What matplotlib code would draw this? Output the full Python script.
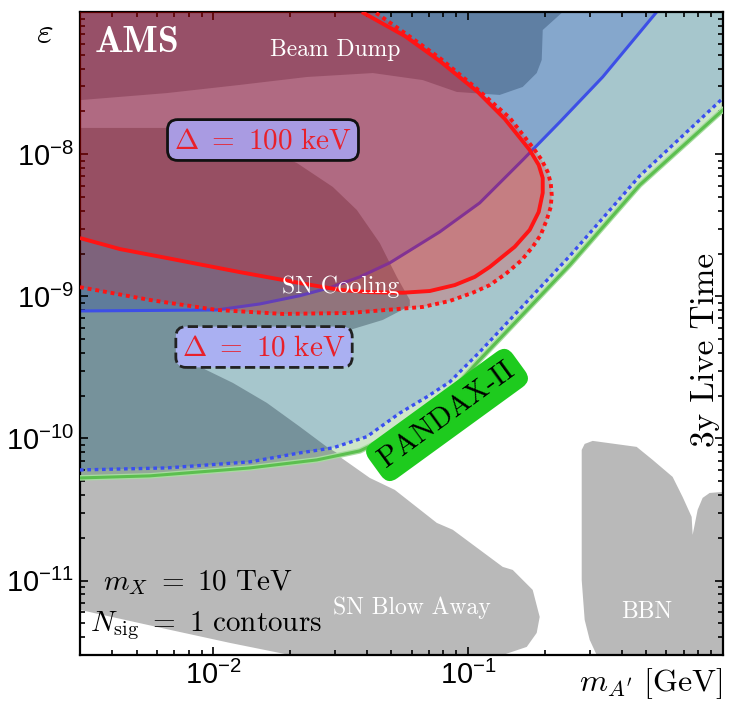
import numpy as np
import matplotlib.pyplot as plt
from matplotlib.ticker import LogLocator, NullFormatter

plt.rcParams['font.family'] = ['Liberation Sans', 'DejaVu Sans']
plt.rcParams['mathtext.fontset'] = 'custom'
plt.rcParams['mathtext.rm'] = 'Liberation Sans'
plt.rcParams['mathtext.it'] = 'Liberation Sans:italic'
plt.rcParams['mathtext.bf'] = 'Liberation Sans:bold'

# limites dos eixos
x_min, x_max = 3e-3, 1.0
y_min, y_max = 3e-12, 1e-7

# PANDAX-II (linha verde)
pandax_m = [0.0030, 0.00564, 0.01392, 0.02549, 0.03758, 0.04625, 0.06288, 0.0847, 0.1091, 0.2503, 0.4711, 1.0]
pandax_eps = [5.28e-11, 5.46e-11, 6.21e-11, 7.07e-11, 8.18e-11, 9.78e-11, 1.42e-10, 2.09e-10, 3.46e-10, 1.66e-9, 6.07e-9, 2.05e-8]

# 3y live time, Delta = 10 keV (azul pontilhado)
live10_m = [0.0030, 0.006579, 0.01392, 0.02186, 0.02945, 0.04005, 0.05394, 0.06881, 0.0847, 0.111, 0.2503, 0.4711, 1.0]
live10_eps = [6.01e-11, 6.21e-11, 6.85e-11, 7.92e-11, 8.59e-11, 1.03e-10, 1.51e-10, 1.96e-10, 2.50e-10, 4.06e-10, 1.92e-9, 7.03e-9, 2.48e-8]

# 3y live time, Delta = 100 keV (azul continuo)
live100_m = [0.0030, 0.01033, 0.01524, 0.02186, 0.02867, 0.03758, 0.04928, 0.07738, 0.111, 0.1637, 0.2287, 0.3372, 0.5491]
live100_eps = [7.89e-10, 8.02e-10, 8.84e-10, 1.01e-9, 1.15e-9, 1.37e-9, 1.72e-9, 2.84e-9, 4.54e-9, 9.10e-9, 1.68e-8, 3.49e-8, 1.0e-7]

# AMS, Delta = 100 keV (vermelho continuo)
ams100_m = [0.0030, 0.004303, 0.006579, 0.01272, 0.02186, 0.03137, 0.04113, 0.05542, 0.07071, 0.08863, 0.1062, 0.1216,
            0.1523, 0.1744, 0.1892, 0.1962, 0.1962, 0.1892, 0.1744, 0.1392, 0.1091, 0.07738, 0.05643, 0.03827]
ams100_eps = [2.57e-9, 2.15e-9, 1.86e-9, 1.48e-9, 1.24e-9, 1.11e-9, 1.07e-9, 1.06e-9, 1.09e-9, 1.20e-9, 1.37e-9, 1.61e-9,
              2.23e-9, 2.93e-9, 3.92e-9, 5.34e-9, 6.80e-9, 8.40e-9, 1.07e-8, 1.77e-8, 2.74e-8, 4.52e-8, 6.78e-8, 1.0e-7]

# AMS, Delta = 10 keV (vermelho pontilhado)
ams10_m = [0.0030, 0.005642, 0.01033, 0.01875, 0.03434, 0.06637, 0.0847, 0.1042, 0.1216, 0.1418, 0.1623, 0.1792, 0.1926,
           0.2034, 0.2109, 0.2128, 0.2109, 0.2052, 0.1944, 0.1825, 0.1457, 0.1062, 0.07738, 0.05643, 0.04303]
ams10_eps = [1.16e-9, 9.43e-10, 8.02e-10, 7.52e-10, 7.64e-10, 8.42e-10, 9.28e-10, 1.06e-9, 1.20e-9, 1.46e-9, 1.80e-9,
             2.23e-9, 2.70e-9, 3.45e-9, 4.25e-9, 5.16e-9, 6.27e-9, 7.50e-9, 9.10e-9, 1.07e-8, 1.80e-8, 2.97e-8, 4.75e-8,
             7.12e-8, 1.0e-7]

# Beam dump
bd_m = [0.003, 0.235, 0.1962, 0.1944, 0.1858, 0.1637, 0.133, 0.1042, 0.09024, 0.06637, 0.04226, 0.02329, 0.01272, 0.006579, 0.003]
bd_eps = [1e-7, 1e-7, 7.47e-8, 4.60e-8, 3.72e-8, 2.97e-8, 2.61e-8, 2.69e-8, 2.74e-8, 3.32e-8, 3.72e-8, 3.49e-8, 3.07e-8, 2.69e-8, 2.40e-8]

# SN cooling (a borda inferior segue a linha do PANDAX-II)
snc_m = [0.003, 0.00676, 0.01272, 0.02128, 0.02945, 0.03658, 0.04501, 0.0525, 0.05904, 0.05904, 0.04625, 0.03434,
         0.008863, 0.01194, 0.01623, 0.02186, 0.0279, 0.03054]
snc_eps = [1.53e-8, 1.53e-8, 1.26e-8, 8.67e-9, 5.88e-9, 4.05e-9, 2.37e-9, 1.37e-9, 9.43e-10, 8.56e-10, 6.82e-10, 5.80e-10,
           3.19e-10, 2.46e-10, 1.78e-10, 1.21e-10, 8.73e-11, 7.92e-11]

# SN blow away
snb_m = [0.003, 0.02945, 0.04113, 0.05156, 0.07532, 0.08704, 0.1367, 0.1496, 0.1792, 0.1909, 0.1858, 0.1698, 0.1367,
         0.01998, 0.01162, 0.00676, 0.003]
snb_eps = [6.01e-11, 8.05e-11, 5.28e-11, 4.35e-11, 2.55e-11, 2.28e-11, 1.25e-11, 1.19e-11, 8.61e-12, 5.56e-12, 4.29e-12,
           3.42e-12, 3.0e-12, 3.0e-12, 3.65e-12, 4.51e-12, 6.23e-12]

# BBN
bbn_m = [0.279, 0.2866, 0.3081, 0.4584, 0.5297, 0.6344, 0.6944, 0.7534, 0.7602, 0.7953, 0.8319, 0.8863, 1.0, 1.0,
         0.3194, 0.2998, 0.2866, 0.279]
bbn_eps = [8.31e-11, 9.16e-11, 9.62e-11, 8.73e-11, 7.07e-11, 5.37e-11, 3.88e-11, 2.81e-11, 2.10e-11, 3.15e-11, 3.82e-11,
           4.14e-11, 4.21e-11, 3.0e-12, 3.0e-12, 3.84e-12, 5.30e-12, 1.01e-11]

fig = plt.figure(figsize=(7.38, 7.10), dpi=100)
ax = fig.add_axes([80/738, 55/710, 643/738, 643/710])
ax.set_xscale('log')
ax.set_yscale('log')

# regioes cinzas
ax.fill(snb_m, snb_eps, color='#b9b9b9', lw=0)
ax.fill(bbn_m, bbn_eps, color='#b9b9b9', lw=0)

# regiao teal acima do PANDAX-II
ax.fill(pandax_m + [x_max, x_min], pandax_eps + [y_max, y_max], color='#a6c6cc', lw=0)
# faixa clara entre as duas curvas de baixo
ax.fill(live10_m + pandax_m[::-1], live10_eps + pandax_eps[::-1], color='#cfe6c9', lw=0)
# regiao azul clara acima da curva de 100 keV
ax.fill(live100_m + [x_min], live100_eps + [y_max], color='#85a7cc', lw=0)

# beam dump e SN cooling
ax.fill(bd_m, bd_eps, color='#5f7fa3', lw=0)
low_m = [m for m in pandax_m if m < 0.0305][::-1]
low_eps = [e for m, e in zip(pandax_m, pandax_eps) if m < 0.0305][::-1]
ax.fill(snc_m + low_m, snc_eps + low_eps, color='#0a1a2a', alpha=0.3, lw=0)

ax.plot(live100_m, live100_eps, color='#3d4fe6', lw=2.2, zorder=2)

# regioes do AMS (vermelho transparente)
ax.fill(ams10_m + [x_min], ams10_eps + [y_max], color='red', alpha=0.2, lw=0, zorder=3)
ax.fill(ams100_m + [x_min], ams100_eps + [y_max], color='red', alpha=0.2, lw=0, zorder=3)

ax.plot(ams100_m, ams100_eps, color='#ff1414', lw=2.8, zorder=4, solid_capstyle='butt')
ax.plot(ams10_m, ams10_eps, color='#ff1414', lw=2.8, ls=(0, (1, 1)), zorder=4)
ax.plot(pandax_m, pandax_eps, color='#a8dca0', lw=4.0, zorder=4)
ax.plot(pandax_m, pandax_eps, color='#5cbf4f', lw=2.2, zorder=4)
ax.plot(live10_m, live10_eps, color='#3a4ef0', lw=2.4, ls=(0, (1.1, 1.1)), zorder=4)

ax.set_xlim(x_min, x_max)
ax.set_ylim(y_min, y_max)

# ticks
ax.set_xticks([1e-2, 1e-1])
ax.set_xticklabels([r'$10^{-2}$', r'$10^{-1}$'])
ax.set_yticks([1e-11, 1e-10, 1e-9, 1e-8])
ax.set_yticklabels([r'$10^{-11}$', r'$10^{-10}$', r'$10^{-9}$', r'$10^{-8}$'])
ax.xaxis.set_minor_locator(LogLocator(base=10, subs=np.arange(2, 10), numticks=50))
ax.yaxis.set_minor_locator(LogLocator(base=10, subs=np.arange(2, 10), numticks=50))
ax.xaxis.set_minor_formatter(NullFormatter())
ax.yaxis.set_minor_formatter(NullFormatter())
ax.tick_params(which='both', direction='in', top=True, right=True, width=1.2, labelsize=21, pad=4)
ax.tick_params(which='major', length=6)
ax.tick_params(which='minor', length=3.5)
for s in ax.spines.values():
    s.set_linewidth(1.6)

# textos
cm = dict(math_fontfamily='cm')
ax.text(-0.055, 0.967, r'$\varepsilon$', transform=ax.transAxes, fontsize=26, ha='center', va='center', **cm)
ax.text(1.0, -0.044, r"$m_{A'}\ [\mathrm{GeV}]$", transform=ax.transAxes, fontsize=23, ha='right', va='center', **cm)

ax.text(0.0886, 0.953, 'AMS', transform=ax.transAxes, family='cmb10', fontsize=27, color='white',
        ha='center', va='center', zorder=6)
ax.text(0.3966, 0.941, 'Beam Dump', transform=ax.transAxes, family='cmr10', fontsize=17, color='white',
        ha='center', va='center', zorder=6)
ax.text(0.4059, 0.5723, 'SN Cooling', transform=ax.transAxes, family='cmr10', fontsize=17, color='white',
        ha='center', va='center', zorder=6)
ax.text(0.5163, 0.0731, 'SN Blow Away', transform=ax.transAxes, family='cmr10', fontsize=17, color='white',
        ha='center', va='center', zorder=6)
ax.text(0.8818, 0.0669, 'BBN', transform=ax.transAxes, family='cmr10', fontsize=17, color='white',
        ha='center', va='center', zorder=6)

ax.text(0.2846, 0.8009, r'$\Delta\ =\ 100\ \mathrm{keV}$', transform=ax.transAxes, fontsize=21, color='#e8202a',
        ha='center', va='center', zorder=7,
        bbox=dict(boxstyle='round,pad=0.22,rounding_size=0.35', fc='#a99be2', ec='#111111', lw=2), **cm)
ax.text(0.2862, 0.4790, r'$\Delta\ =\ 10\ \mathrm{keV}$', transform=ax.transAxes, fontsize=21, color='#e8202a',
        ha='center', va='center', zorder=7,
        bbox=dict(boxstyle='round,pad=0.22,rounding_size=0.35', fc='#aab0f2', ec='#222222', lw=2, ls='--'), **cm)

ax.text(0.5708, 0.3733, 'PANDAX-II', transform=ax.transAxes, family='cmr10', fontsize=21, color='black',
        rotation=36, ha='center', va='center', rotation_mode='anchor', zorder=7,
        bbox=dict(boxstyle='round,pad=0.3,rounding_size=0.4', fc='#1ecb1e', ec='none'))

ax.text(0.972, 0.4743, '3y Live Time', transform=ax.transAxes, family='cmr10', fontsize=24, color='black',
        rotation=90, ha='center', va='center', zorder=7)

ax.text(0.1835, 0.112, r'$m_X\ =\ 10\ \mathrm{TeV}$', transform=ax.transAxes, fontsize=21, color='black',
        ha='center', va='center', zorder=7, **cm)
ax.text(0.196, 0.045, r'$N_{\mathrm{sig}}\ =\ 1\ \mathrm{contours}$', transform=ax.transAxes, fontsize=21,
        color='black', ha='center', va='center', zorder=7, **cm)

fig.savefig('out.png', dpi=100)
